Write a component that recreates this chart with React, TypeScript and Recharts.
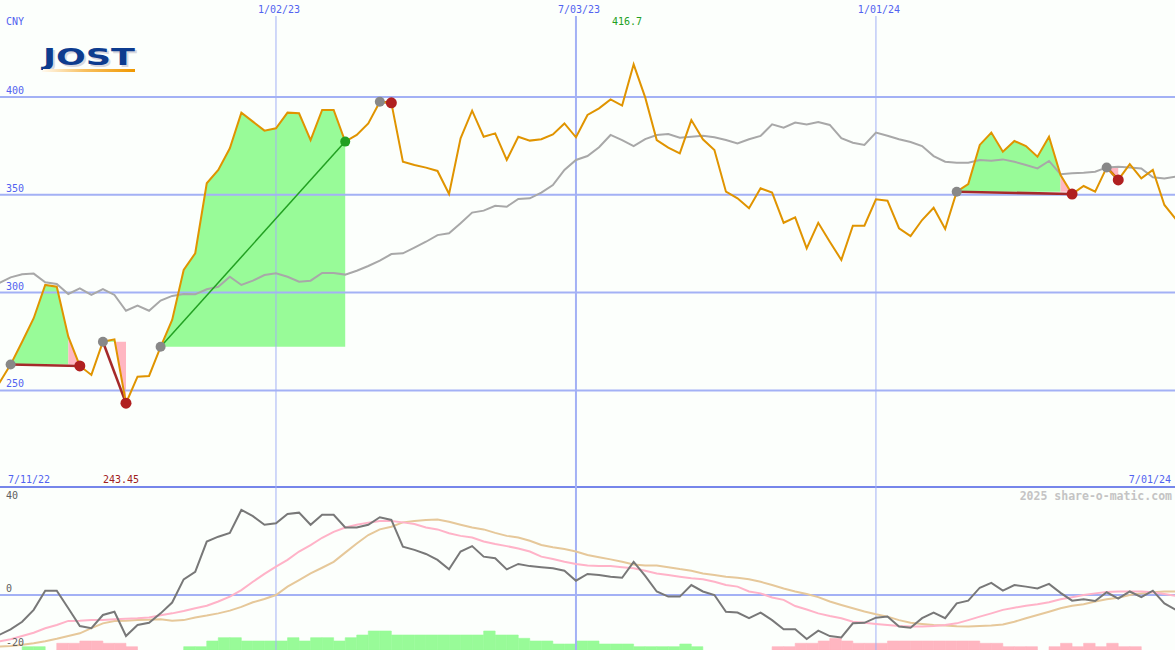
import React from 'react';
import { ComposedChart, Line, Area, Bar, Scatter, XAxis, YAxis, ReferenceLine } from 'recharts';

// weekly closes (CNY), week index 0 = 7/11/22
const price = [
  253.6, 263.2, 274.9, 286.9, 303.9, 303.0, 277.5, 262.5, 257.9, 274.9,
  276.1, 243.45, 257.0, 257.4, 272.3, 286.0, 311.6, 320.1, 355.9, 362.7,
  373.8, 392.0, 387.4, 382.8, 384.0, 392.0, 391.7, 378.0, 393.4, 393.4,
  377.2, 380.6, 386.5, 397.6, 397.0, 366.9, 365.2, 363.9, 362.2, 350.4,
  378.9, 393.0, 379.7, 381.4, 367.8, 379.7, 377.7, 378.4, 380.9, 386.5,
  379.4, 390.8, 394.2, 398.8, 395.6, 416.7, 399.8, 378.0, 374.1, 371.2,
  388.2, 378.4, 372.9, 351.6, 348.2, 343.1, 353.3, 351.1, 335.7, 338.5,
  322.6, 335.7, 326.0, 316.7, 334.2, 334.2, 347.7, 347.0, 332.9, 328.9,
  337.1, 343.4, 332.5, 351.6, 355.5, 375.5, 381.8, 372.0, 377.5, 374.9,
  369.5, 379.7, 360.1, 350.4, 354.5, 351.6, 364.0, 357.6, 365.7, 358.4,
  362.7, 344.8, 337.5,
];

// moving average (grey line in the price panel)
const avg = [
  304.8, 307.8, 309.4, 309.7, 305.3, 304.4, 299.3, 302.2, 298.8, 301.8,
  298.8, 290.7, 293.3, 290.7, 295.9, 298.3, 299.3, 299.1, 301.7, 303.0,
  308.1, 303.9, 306.1, 309.0, 309.9, 308.1, 305.6, 306.1, 310.0, 310.0,
  309.2, 311.2, 313.6, 316.3, 319.7, 320.1, 323.0, 326.0, 329.4, 330.3,
  335.4, 340.9, 341.9, 344.4, 343.9, 347.9, 348.2, 351.1, 355.0, 362.7,
  367.8, 369.8, 374.3, 380.6, 378.0, 374.9, 378.5, 380.6, 381.1, 379.2,
  379.7, 380.2, 379.4, 378.0, 376.3, 378.4, 380.1, 386.0, 384.3, 386.9,
  386.0, 387.2, 385.7, 378.9, 376.6, 375.5, 381.8, 380.2, 378.4, 377.0,
  374.9, 369.8, 366.9, 366.4, 366.4, 367.8, 367.4, 368.1, 366.9, 365.2,
  363.5, 367.3, 360.5, 361.0, 361.3, 361.8, 364.0, 364.4, 364.0, 363.5,
  359.0, 358.3, 359.3,
];

// lower panel: oscillator (dark grey), fast signal (pink), slow signal (tan)
const mom = [
  -14.8, -12.7, -9.9, -5.5, 1.6, 1.6, -4.9, -11.5, -12.3, -7.4,
  -6.2, -15.2, -11.1, -10.3, -6.8, -2.8, 5.8, 8.6, 19.8, 21.6,
  23.0, 31.5, 29.2, 26.0, 26.6, 30.0, 30.5, 26.0, 29.7, 29.7,
  25.0, 25.0, 26.0, 28.8, 27.8, 17.9, 16.7, 15.2, 13.0, 9.5,
  16.1, 18.1, 14.2, 13.6, 9.5, 11.5, 10.7, 10.3, 9.9, 9.0,
  5.3, 7.8, 7.4, 6.8, 6.4, 12.3, 7.1, 1.3, -0.6, -0.6,
  3.7, 1.3, 0, -6.2, -6.5, -8.6, -6.5, -9.3, -12.7, -12.7,
  -16.3, -13.2, -15.2, -15.7, -10.5, -10.3, -8.4, -8.0, -11.7, -12.1,
  -8.6, -6.5, -8.6, -3.1, -2.1, 2.7, 4.5, 1.6, 3.7, 3.1,
  2.4, 4.1, 0.8, -2.1, -1.6, -2.2, 1.0, -1.3, 1.3, -0.8,
  1.6, -3.1, -5.5,
];
const sig = [
  -17.2, -16.4, -15.2, -14.0, -12.3, -11.1, -9.6, -9.5, -9.3, -9.3,
  -9.0, -8.8, -8.6, -8.3, -7.5, -6.8, -5.9, -4.9, -4.0, -2.4,
  -0.6, 1.8, 4.9, 7.8, 10.5, 13.0, 16.1, 18.5, 21.2, 23.4,
  25.0, 26.0, 26.8, 27.4, 27.4, 26.9, 26.3, 25.0, 24.3, 22.9,
  21.9, 21.3, 19.8, 18.9, 18.1, 17.2, 16.1, 14.2, 13.3, 12.3,
  11.5, 10.9, 10.7, 10.7, 10.3, 9.9, 9.0, 8.0, 7.4, 6.8,
  6.2, 5.8, 4.9, 3.7, 3.1, 1.3, 0.6, -0.9, -1.8, -4.1,
  -5.4, -6.8, -7.8, -8.6, -9.9, -10.3, -10.7, -11.1, -11.5, -11.7,
  -11.7, -11.5, -11.1, -10.5, -9.3, -8.0, -6.8, -5.5, -4.7, -4.0,
  -3.4, -2.7, -1.6, -0.8, 0, 0.6, 1.1, 1.3, 1.3, 1.3,
  1.0, 0.4, -0.3,
];
const slow = [
  -19.1, -18.9, -18.4, -17.9, -17.1, -16.2, -15.2, -14.2, -12.3, -10.5,
  -9.6, -9.5, -9.3, -9.2, -9.0, -9.5, -9.3, -8.3, -7.6, -6.8,
  -5.8, -4.4, -2.7, -1.5, 0, 3.1, 5.5, 8.0, 10.1, 12.3,
  15.7, 19.1, 22.2, 24.3, 25.3, 26.9, 27.4, 27.8, 28.0, 27.1,
  26.0, 25.0, 24.3, 23.0, 21.9, 21.3, 20.1, 18.5, 17.7, 17.0,
  16.1, 14.8, 14.0, 13.2, 12.3, 11.3, 10.9, 10.9, 10.3, 9.6,
  9.0, 8.0, 7.4, 6.8, 6.4, 5.8, 4.9, 3.7, 2.4, 1.3,
  0.4, -0.8, -2.4, -3.7, -4.9, -6.1, -7.1, -8.0, -9.3, -10.3,
  -10.7, -11.1, -11.3, -11.6, -11.7, -11.5, -11.3, -10.9, -9.9, -8.6,
  -7.4, -6.2, -4.9, -4.0, -3.4, -2.4, -1.6, -1.0, 0, 0.6,
  1.0, 1.3, 1.3,
];
// histogram (positive = green, negative = pink)
const hist = [
  0, 0, 3.3, 3.3, 0, -6.7, -6.7, -9, -9, -6.7,
  -6.7, -3.3, 0, 0, 0, 0, 3.3, 3.3, 9, 12.3,
  12.3, 9, 9, 9, 9, 12.3, 9, 12.3, 12.3, 9,
  12.3, 15, 19, 19, 15, 15, 15, 15, 15, 15,
  15, 15, 19, 15, 15, 11.7, 9, 9, 6, 6,
  9, 9, 6, 6, 6, 3.3, 3.3, 3.3, 3.3, 6,
  3.3, 0, 0, 0, 0, 0, 0, -3.3, -3.3, -6.7,
  -6.7, -9, -11.7, -9, -6.7, -6.7, -6.7, -9, -9, -9,
  -9, -9, -9, -9, -9, -6.7, -6.7, -3.3, -3.3, -3.3,
  0, -3.3, -6.7, -3.3, -6.7, -3.3, -6.7, -3.3, -3.3, 0,
  0, 0, 0,
];

// swings: start week, end week, whether it ended higher
const swingStart = [1, 9, 14, 33, 83, 96];
const swingEnd = [7, 11, 30, 34, 93, 97];
const swingWon = [false, false, true, false, false, false];

const dateTicks = [24, 50, 76];
const dateLabels = ['1/02/23', '7/03/23', '1/01/24'];
const priceTicks = [250, 300, 350, 400];
const oscTicks = [-20, 0, 40];

const W = 1175;
const H = 650;
const X_DOMAIN: [number, number] = [0.08, 101.92];
const P_DOMAIN: [number, number] = [117.28, 441.41];
const B_DOMAIN: [number, number] = [-20.37, 214.44];
const H_DOMAIN: [number, number] = [0, 634];

const BLUE = '#5263f0';
const GRID = '#a3b1f5';
const SEP = '#7686ea';
const ORANGE = '#e09400';
const MONO = '"DejaVu Sans Mono", monospace';

const rows = price.map((p, i) => {
  const row: any = {
    i,
    price: p,
    avg: avg[i],
    mom: mom[i],
    sig: sig[i],
    slow: slow[i],
    histUp: hist[i] > 0 ? hist[i] : null,
    histDown: hist[i] < 0 ? -hist[i] : null,
    gain: null,
    loss: null,
  };
  swingStart.forEach((s, k) => {
    const e = swingEnd[k];
    const level = price[s];
    const lastUp = swingWon[k] ? e : e - 1;
    if (lastUp > s && i >= s && i <= lastUp) row.gain = [level, p];
    if (!swingWon[k] && i >= e - 1 && i <= e) row.loss = [level, p];
  });
  return row;
});

const startMarks = swingStart.map((s) => ({ i: s, v: price[s] }));
const lossMarks = swingEnd.filter((_, k) => !swingWon[k]).map((e) => ({ i: e, v: price[e] }));
const winMarks = swingEnd.filter((_, k) => swingWon[k]).map((e) => ({ i: e, v: price[e] }));

const DateTick = (props: any) => {
  const idx = dateTicks.indexOf(props.payload.value);
  return (
    <text x={props.x + 3} y={12.5} textAnchor="middle" fontFamily={MONO} fontSize={10} fill={BLUE}>
      {dateLabels[idx]}
    </text>
  );
};

const PriceTick = (props: any) => (
  <text x={6} y={props.y - 3} fontFamily={MONO} fontSize={10} fill={BLUE}>
    {props.payload.value}
  </text>
);

const OscTick = (props: any) => (
  <text x={6} y={props.payload.value === 40 ? props.y + 12.5 : props.y - 3} fontFamily={MONO} fontSize={10} fill="#606060">
    {props.payload.value}
  </text>
);

const dot = (color: string, r: number) => (p: any) =>
  p.cx == null ? <g /> : <circle cx={p.cx} cy={p.cy} r={r} fill={color} />;

export default function App() {
  return (
    <div style={{ position: 'fixed', left: 0, top: 0, width: W, height: H, background: '#fcfffc', overflow: 'hidden' }}>
      <ComposedChart
        width={W}
        height={H}
        data={rows}
        margin={{ top: 0, right: 0, bottom: 0, left: 0 }}
        barGap={0}
        barCategoryGap={0}
      >
        <XAxis
          dataKey="i"
          type="number"
          orientation="top"
          height={16}
          domain={X_DOMAIN}
          allowDataOverflow
          ticks={dateTicks}
          interval={0}
          axisLine={false}
          tickLine={false}
          tick={<DateTick />}
        />
        <XAxis
          xAxisId="hx"
          dataKey={(d: any) => d.i + 0.5}
          type="number"
          domain={X_DOMAIN}
          allowDataOverflow
          hide
        />
        <YAxis
          yAxisId="p"
          type="number"
          domain={P_DOMAIN}
          allowDataOverflow
          ticks={priceTicks}
          interval={0}
          width={1}
          mirror
          axisLine={false}
          tickLine={false}
          tick={<PriceTick />}
        />
        <YAxis
          yAxisId="b"
          type="number"
          domain={B_DOMAIN}
          allowDataOverflow
          ticks={oscTicks}
          interval={0}
          width={1}
          mirror
          axisLine={false}
          tickLine={false}
          tick={<OscTick />}
        />
        <YAxis yAxisId="h" type="number" domain={H_DOMAIN} allowDataOverflow hide />

        {priceTicks.map((v) => (
          <ReferenceLine key={'pg' + v} yAxisId="p" y={v} stroke={GRID} strokeWidth={2} />
        ))}
        <ReferenceLine yAxisId="b" y={0} stroke={GRID} strokeWidth={2} />
        <ReferenceLine yAxisId="b" y={40} stroke={SEP} strokeWidth={2} />
        {dateTicks.map((t, k) => (
          <ReferenceLine key={'vg' + t} yAxisId="p" x={t} stroke={GRID} strokeWidth={k === 1 ? 2 : 1} />
        ))}

        <Bar xAxisId="hx" yAxisId="h" dataKey="histUp" stackId="h" fill="#98fb98" stroke="#98fb98" strokeWidth={0.6} barSize={11.5} isAnimationActive={false} />
        <Bar xAxisId="hx" yAxisId="h" dataKey="histDown" stackId="h" fill="#ffb6c1" stroke="#ffb6c1" strokeWidth={0.6} barSize={11.5} isAnimationActive={false} />

        <Line yAxisId="b" dataKey="slow" stroke="#e6c89a" strokeWidth={2} dot={false} activeDot={false} isAnimationActive={false} />
        <Line yAxisId="b" dataKey="sig" stroke="#ffb3c8" strokeWidth={2} dot={false} activeDot={false} isAnimationActive={false} />
        <Line yAxisId="b" dataKey="mom" stroke="#787878" strokeWidth={2} dot={false} activeDot={false} isAnimationActive={false} />

        <Area yAxisId="p" dataKey="gain" stroke="none" fill="#98fb98" fillOpacity={1} dot={false} activeDot={false} isAnimationActive={false} />
        <Area yAxisId="p" dataKey="loss" stroke="none" fill="#ffb6c1" fillOpacity={1} dot={false} activeDot={false} isAnimationActive={false} />

        <Line yAxisId="p" dataKey="avg" stroke="#a8a8a8" strokeWidth={2} dot={false} activeDot={false} isAnimationActive={false} />

        {swingStart.map((s, k) => (
          <Line
            key={'sw' + k}
            yAxisId="p"
            data={[
              { i: s, v: price[s] },
              { i: swingEnd[k], v: price[swingEnd[k]] },
            ]}
            dataKey="v"
            stroke={swingWon[k] ? '#22a022' : '#a52a2a'}
            strokeWidth={swingWon[k] ? 1.5 : 2.5}
            dot={false}
            activeDot={false}
            isAnimationActive={false}
          />
        ))}

        <Line yAxisId="p" dataKey="price" stroke={ORANGE} strokeWidth={2} dot={false} activeDot={false} isAnimationActive={false} />

        <Scatter yAxisId="p" data={startMarks} dataKey="v" shape={dot('#888888', 5)} isAnimationActive={false} />
        <Scatter yAxisId="p" data={lossMarks} dataKey="v" shape={dot('#b02020', 5.5)} isAnimationActive={false} />
        <Scatter yAxisId="p" data={winMarks} dataKey="v" shape={dot('#22a022', 5)} isAnimationActive={false} />
      </ComposedChart>

      <svg width={W} height={H} style={{ position: 'absolute', left: 0, top: 0, pointerEvents: 'none' }}>
        <defs>
          <linearGradient id="logoBar" x1="0" x2="1" y1="0" y2="0">
            <stop offset="0" stopColor="#fff8ec" />
            <stop offset="0.45" stopColor="#f8c060" />
            <stop offset="1" stopColor="#f09800" />
          </linearGradient>
        </defs>
        <text x={6} y={25} fontFamily={MONO} fontSize={10} fill={BLUE}>CNY</text>
        <text x={45} y={67} fontFamily="DejaVu Sans" fontWeight={900} fontSize={23} fill="#d8d8e0" textLength={92} lengthAdjust="spacingAndGlyphs">JOST</text>
        <text x={43} y={65} fontFamily="DejaVu Sans" fontWeight={900} fontSize={23} fill="#0d3c8f" textLength={92} lengthAdjust="spacingAndGlyphs">JOST</text>
        <rect x={43} y={69} width={92} height={3} fill="url(#logoBar)" />
        <text x={627} y={25} textAnchor="middle" fontFamily={MONO} fontSize={10} fill="#22a022">416.7</text>
        <text x={8} y={483} fontFamily={MONO} fontSize={10} fill={BLUE}>7/11/22</text>
        <text x={103} y={483} fontFamily={MONO} fontSize={10} fill="#a02020">243.45</text>
        <text x={1171} y={483} textAnchor="end" fontFamily={MONO} fontSize={10} fill={BLUE}>7/01/24</text>
        <text x={1172} y={500} textAnchor="end" fontFamily={MONO} fontSize={11.5} fontWeight="bold" fill="#c4c4c4">2025 share-o-matic.com</text>
      </svg>
    </div>
  );
}
